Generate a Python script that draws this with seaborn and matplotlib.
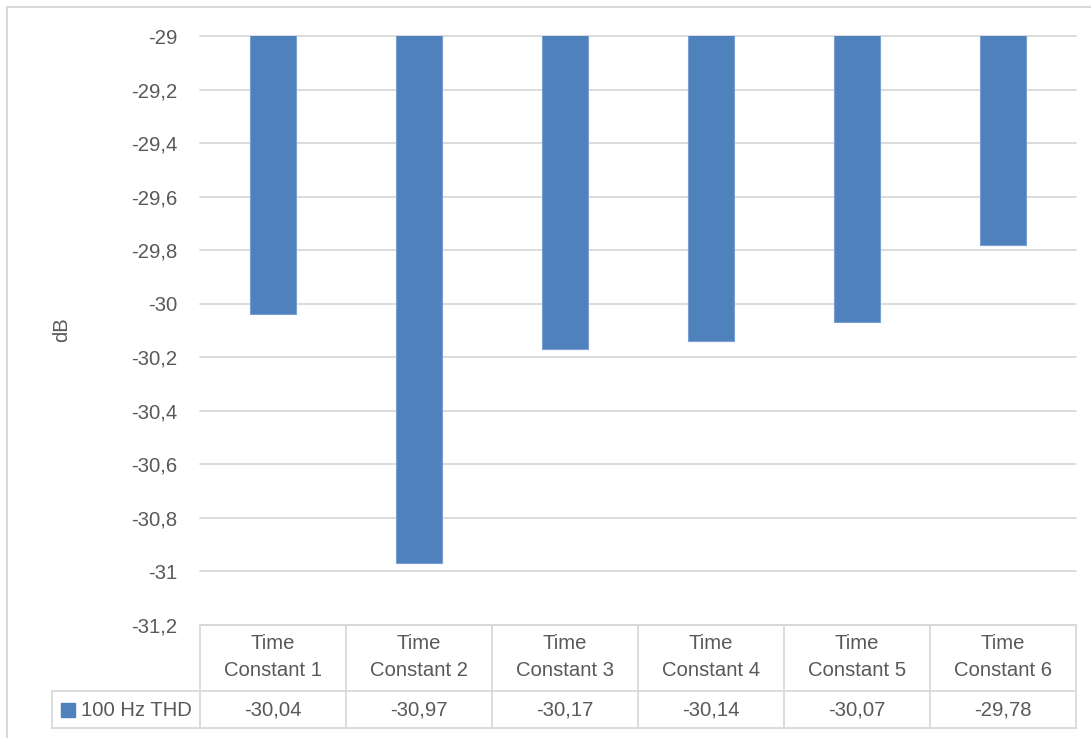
import matplotlib
matplotlib.use("Agg")
import matplotlib.pyplot as plt
import seaborn as sns
import pandas as pd
from matplotlib.transforms import blended_transform_factory
from matplotlib.patches import Rectangle
from matplotlib.lines import Line2D

# ---- data ----
categories = ["Time\nConstant 1", "Time\nConstant 2", "Time\nConstant 3",
              "Time\nConstant 4", "Time\nConstant 5", "Time\nConstant 6"]
values = [-30.04, -30.97, -30.17, -30.14, -30.07, -29.78]
value_labels = ["-30,04", "-30,97", "-30,17", "-30,14", "-30,07", "-29,78"]
series_name = "100 Hz THD"
yticks = [-29.0, -29.2, -29.4, -29.6, -29.8, -30.0, -30.2, -30.4, -30.6, -30.8, -31.0, -31.2]
ytick_labels = ["-29", "-29,2", "-29,4", "-29,6", "-29,8", "-30", "-30,2",
                "-30,4", "-30,6", "-30,8", "-31", "-31,2"]
y_label = "dB"

BAR = "#4f81bd"
GRID = "#d9d9d9"
TXT = "#595959"
FS = 14.6

sns.set_theme(style="white")
plt.rcParams['font.family'] = ['Liberation Sans', 'DejaVu Sans']

W, H = 1091, 738
fig = plt.figure(figsize=(W / 100, H / 100), dpi=100)
fig.patch.set_facecolor("white")

def fy(ypx):
    return 1 - ypx / H

def fx(xpx):
    return xpx / W

ax = fig.add_axes([fx(200), fy(625), 876 / W, 589 / H])
df = pd.DataFrame({"cat": categories, "val": values})
sns.barplot(data=df, x="cat", y="val", color=BAR, width=0.315, saturation=1,
            edgecolor="#7a9fd0", linewidth=0.8, ax=ax, zorder=3)
ax.set_xlim(-0.5, len(categories) - 0.5)
ax.set_ylim(yticks[-1], yticks[0])
ax.set_yticks(yticks)
ax.set_yticklabels(ytick_labels, color=TXT, fontsize=FS)
ax.set_xticks([])
ax.set_xlabel("")
ax.set_ylabel("")
for s in ax.spines.values():
    s.set_visible(False)
ax.yaxis.grid(True, color=GRID, linewidth=1.3)
for gl in ax.get_ygridlines():
    gl.set_clip_on(False)
ax.set_axisbelow(True)
ax.tick_params(axis='y', length=0, pad=16.5)

fig.text(fx(62), fy(330), y_label, rotation=90, ha="center", va="center",
         color=TXT, fontsize=FS)

# ---- data table ----
bt = blended_transform_factory(ax.transData, fig.transFigure)
n = len(categories)
x_right = ax.get_position().x1
lw = 1.3
fig.add_artist(Line2D([fx(200), x_right], [fy(625), fy(625)], color=GRID, lw=lw))
fig.add_artist(Line2D([fx(52), x_right], [fy(691), fy(691)], color=GRID, lw=lw))
fig.add_artist(Line2D([fx(52), x_right], [fy(728), fy(728)], color=GRID, lw=lw))
for i in range(n + 1):
    fig.add_artist(Line2D([i - 0.5, i - 0.5], [fy(625), fy(728)], color=GRID, lw=lw,
                          transform=bt))
fig.add_artist(Line2D([fx(52), fx(52)], [fy(691), fy(728)], color=GRID, lw=lw))

for i, (c, v) in enumerate(zip(categories, value_labels)):
    fig.text(i, fy(657), c, transform=bt, ha="center", va="center", color=TXT,
             fontsize=FS, linespacing=1.5)
    fig.text(i, fy(710), v, transform=bt, ha="center", va="center", color=TXT,
             fontsize=FS)

fig.add_artist(Rectangle((fx(61), fy(717)), 14 / W, 14 / H, color=BAR,
                         transform=fig.transFigure))
fig.text(fx(81), fy(710), series_name, ha="left", va="center", color=TXT, fontsize=FS)

# outer chart border
fig.add_artist(Line2D([fx(7), fx(7)], [fy(7), 0], color=GRID, lw=1.5))
fig.add_artist(Line2D([fx(7), 1], [fy(7), fy(7)], color=GRID, lw=1.5))

fig.savefig("out.png", dpi=100, facecolor="white")
